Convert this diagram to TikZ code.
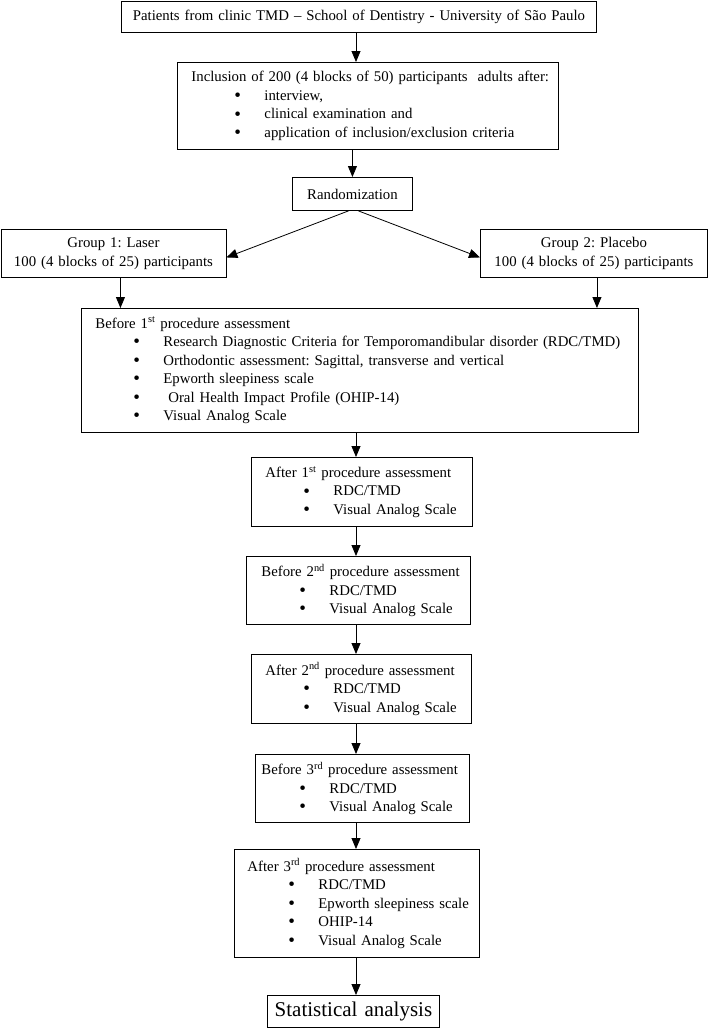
\documentclass[tikz,border=0pt]{standalone}
\usepackage{fontspec}
\setmainfont{Liberation Serif}
\usetikzlibrary{arrows.meta, positioning}
\frenchspacing

% one bullet line inside a box
\newcommand{\itm}[2][38pt]{\mbox{\hspace*{#1}\makebox[30pt][l]{\raisebox{-1.2pt}{\fontsize{19}{19}\selectfont\textbullet}}#2}}

\tikzset{
  box/.style={draw, line width=0.9pt, anchor=north west, inner ysep=0pt, align=left,
    font=\fontsize{14.8}{18.5}\selectfont},
  arr/.style={-{Triangle[width=9pt,length=11pt]}, line width=0.8pt},
}

\begin{document}
\begin{tikzpicture}[x=1pt, y=-1pt]
                \useasboundingbox (0,0) rectangle (709,1029);
                \coordinate (spine) at (356,0);

                % Recruitment
                \node[box, align=center, inner xsep=6pt, text width=463pt, minimum height=31pt] (pat) at (121,1)
                  {Patients from clinic TMD -- School of Dentistry - University of São Paulo};
                \node[box, inner xsep=14pt, text width=353pt, minimum height=87pt] (incl) at (177,62)
                  {\mbox{Inclusion of 200 (4 blocks of 50) participants\ \ adults after:}\\
                   \itm[43pt]{interview,}\\
                   \itm[43pt]{clinical examination and}\\
                   \itm[43pt]{application of inclusion/exclusion criteria}};
                \node[box, align=center, inner xsep=4pt, text width=112pt, minimum height=33pt] (rand) at (292,177)
                  {Randomization};

                % Groups
                \node[box, align=center, inner xsep=4pt, text width=217pt, minimum height=48pt] (g1) at (0.5,229)
                  {Group 1: Laser\\100 (4 blocks of 25) participants};
                \node[box, align=center, inner xsep=4pt, text width=219pt, minimum height=48pt] (g2) at (480,229)
                  {Group 2: Placebo\\100 (4 blocks of 25) participants};

                % Assessments
                \node[box, inner xsep=14pt, text width=529pt, minimum height=124pt] (bf1) at (81,308)
                  {\mbox{Before 1\textsuperscript{st} procedure assessment}\\
                   \itm{Research Diagnostic Criteria for Temporomandibular disorder (RDC/TMD)}\\
                   \itm{Orthodontic assessment: Sagittal, transverse and vertical}\\
                   \itm{Epworth sleepiness scale}\\
                   \itm{\ Oral Health Impact Profile (OHIP-14)}\\
                   \itm{Visual Analog Scale}};
                \node[box, inner xsep=14pt, text width=193pt, minimum height=69pt] (af1) at (251,457)
                  {\mbox{After 1\textsuperscript{st} procedure assessment}\\
                   \itm{RDC/TMD}\\
                   \itm{Visual Analog Scale}};
                \node[box, inner xsep=15pt, text width=194pt, minimum height=68pt] (bf2) at (246,556)
                  {\mbox{Before 2\textsuperscript{nd} procedure assessment}\\
                   \itm{RDC/TMD}\\
                   \itm{Visual Analog Scale}};
                \node[box, inner xsep=14pt, text width=192pt, minimum height=69pt] (af2) at (251,654)
                  {\mbox{After 2\textsuperscript{nd} procedure assessment}\\
                   \itm{RDC/TMD}\\
                   \itm{Visual Analog Scale}};
                \node[box, inner xsep=6pt, text width=202pt, minimum height=68pt] (bf3) at (255,754)
                  {\mbox{Before 3\textsuperscript{rd} procedure assessment}\\
                   \itm{RDC/TMD}\\
                   \itm{Visual Analog Scale}};
                \node[box, inner xsep=13pt, text width=219pt, minimum height=108pt] (af3) at (234,849)
                  {\mbox{After 3\textsuperscript{rd} procedure assessment}\\
                   \itm[41pt]{RDC/TMD}\\
                   \itm[41pt]{Epworth sleepiness scale}\\
                   \itm[41pt]{OHIP-14}\\
                   \itm[41pt]{Visual Analog Scale}};
                \node[box, align=center, inner xsep=4pt, text width=164pt, minimum height=32pt,
                  font=\fontsize{21}{24}\selectfont] (stat) at (267,995)
                  {Statistical analysis};

                % Flow
                \draw[arr] (pat.south -| spine) -- (incl.north -| spine);
                \draw[arr] (incl.south -| rand) -- (rand.north);
                \draw[arr] ([xshift=-4pt]rand.south) -- ([yshift=-4pt]g1.east);
                \draw[arr] ([xshift=6pt]rand.south) -- ([yshift=-4pt]g2.west);
                \draw[arr] ([xshift=7pt]g1.south) -- ([xshift=7pt]g1.south |- bf1.north);
                \draw[arr] ([xshift=3pt]g2.south) -- ([xshift=3pt]g2.south |- bf1.north);
                \draw[arr] (bf1.south -| spine) -- (af1.north -| spine);
                \draw[arr] (af1.south -| spine) -- (bf2.north -| spine);
                \draw[arr] (bf2.south -| spine) -- (af2.north -| spine);
                \draw[arr] (af2.south -| spine) -- (bf3.north -| spine);
                \draw[arr] (bf3.south -| spine) -- (af3.north -| spine);
                \draw[arr] (af3.south -| spine) -- (stat.north -| spine);
\end{tikzpicture}
\end{document}
